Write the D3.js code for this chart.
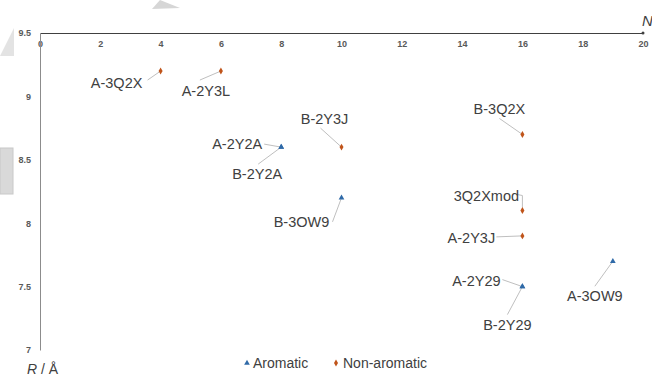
<!DOCTYPE html>
<html>
<head>
<meta charset="utf-8">
<script src="https://cdn.jsdelivr.net/npm/d3@7"></script>
<style>
  body { margin: 0; background: #fff; }
  svg { display: block; font-family: "Liberation Sans", Arial, sans-serif; }
</style>
</head>
<body>
<div id="chart"></div>
<script>
// data
const aromaticNames = ["A-2Y2A", "B-2Y2A", "B-3OW9", "A-2Y29", "B-2Y29", "A-3OW9"]
const aromaticN = [8, 8, 10, 16, 16, 19]
const aromaticR = [8.6, 8.6, 8.2, 7.5, 7.5, 7.7]

const nonAromaticNames = ["A-3Q2X", "A-2Y3L", "B-2Y3J", "B-3Q2X", "3Q2Xmod", "A-2Y3J"]
const nonAromaticN = [4, 6, 10, 16, 16, 16]
const nonAromaticR = [9.2, 9.2, 8.6, 8.7, 8.1, 7.9]

const xTicks = [0, 2, 4, 6, 8, 10, 12, 14, 16, 18, 20]
const yTicks = [7, 7.5, 8, 8.5, 9, 9.5]

// label placement: [text dx, text dy, leader dx, leader dy] relative to the point (px)
const labelPos = {
  "A-3Q2X": [-44, 17, -13, 9],
  "A-2Y3L": [-15, 25, -21, 9],
  "B-2Y3J": [-17, -23, -21, -19],
  "A-2Y2A": [-44, 2, -17, -3],
  "B-2Y2A": [-24, 32, -23, 17],
  "B-3OW9": [-40, 29, -9, 24],
  "B-3Q2X": [-23, -20, -23, -16],
  "3Q2Xmod": [-36, -10, -2, -16],
  "A-2Y3J": [-51, 7, -26, 1],
  "A-2Y29": [-46, -1, -20, -7],
  "B-2Y29": [-15, 43, -15, 28],
  "A-3OW9": [-18, 40, -18, 25]
}

const width = 652
const height = 377

const svg = d3.select("#chart")
  .append("svg")
    .attr("width", width)
    .attr("height", height)

// faint page decorations behind the chart
const deco = svg.append("g").attr("fill", "#e3e3e3")
deco.append("path").attr("d", "M0,56 L14,28 L14,56 Z")
deco.append("path").attr("d", "M152,9 L160,0 L180,8 Z").attr("fill", "#d6d6d6")
deco.append("rect").attr("x", 0).attr("y", 148).attr("width", 13).attr("height", 46)
  .attr("fill", "#d9d9d9").attr("stroke", "#c8c8c8")

const x = d3.scaleLinear().domain([0, 20]).range([40, 643])
const y = d3.scaleLinear().domain([7, 9.5]).range([350, 33])

// x axis along the top
const xAxis = d3.axisBottom(x).tickValues(xTicks).tickSize(0).tickPadding(8)
const xAxisGroup = svg.append("g")
  .attr("transform", `translate(0, ${y(9.5)})`)
  .call(xAxis)
xAxisGroup.select(".domain").attr("stroke", "#404040")
xAxisGroup.selectAll("text")
  .attr("fill", "#595959").attr("font-size", 9).attr("font-weight", "bold")
  .attr("font-family", "Liberation Sans, Arial, sans-serif")

svg.append("circle")
  .attr("cx", x(20)).attr("cy", y(9.5)).attr("r", 1.5).attr("fill", "#404040")

// y axis
const yAxis = d3.axisLeft(y).tickValues(yTicks).tickSize(0).tickPadding(9).tickFormat(d3.format(""))
const yAxisGroup = svg.append("g")
  .attr("transform", `translate(${x(0)}, 0)`)
  .call(yAxis)
yAxisGroup.select(".domain").attr("stroke", "#8c8c8c")
yAxisGroup.selectAll("text")
  .attr("fill", "#595959").attr("font-size", 9).attr("font-weight", "bold")
  .attr("font-family", "Liberation Sans, Arial, sans-serif")

// axis titles
svg.append("text")
  .attr("x", 642).attr("y", 26)
  .attr("font-size", 15).attr("font-style", "italic").attr("fill", "#404040")
  .text("N")

const rTitle = svg.append("text")
  .attr("x", 27).attr("y", 374)
  .attr("font-size", 14).attr("fill", "#404040")
rTitle.append("tspan").attr("font-style", "italic").text("R")
rTitle.append("tspan").text(" / Å")

// points
const aromatic = aromaticNames.map((n, i) => ({ name: n, n: aromaticN[i], r: aromaticR[i] }))
const nonAromatic = nonAromaticNames.map((n, i) => ({ name: n, n: nonAromaticN[i], r: nonAromaticR[i] }))
const all = aromatic.concat(nonAromatic)

// leader lines
svg.append("g").selectAll("polyline")
  .data(all)
  .join("polyline")
    .attr("fill", "none")
    .attr("stroke", "#bfbfbf")
    .attr("stroke-width", 1)
    .attr("points", d => {
      const p = labelPos[d.name]
      const px = x(d.n), py = y(d.r)
      if (d.name === "3Q2Xmod") {
        return `${px + p[2] - 3},${py + p[3]} ${px},${py + p[3] + 1} ${px},${py - 3}`
      }
      return `${px + p[2]},${py + p[3]} ${px},${py}`
    })

const triangle = d3.symbol().type(d3.symbolTriangle).size(14)
const diamond = d3.symbol().type(d3.symbolDiamond).size(14)

svg.append("g").selectAll("path")
  .data(aromatic)
  .join("path")
    .attr("d", triangle)
    .attr("transform", d => `translate(${x(d.n)}, ${y(d.r)})`)
    .attr("fill", "#2f6aa8")

svg.append("g").selectAll("path")
  .data(nonAromatic)
  .join("path")
    .attr("d", diamond)
    .attr("transform", d => `translate(${x(d.n)}, ${y(d.r)})`)
    .attr("fill", "#c0541a")

// point labels
svg.append("g").selectAll("text")
  .data(all)
  .join("text")
    .attr("x", d => x(d.n) + labelPos[d.name][0])
    .attr("y", d => y(d.r) + labelPos[d.name][1])
    .attr("text-anchor", "middle")
    .attr("font-size", 14.5)
    .attr("fill", "#404040")
    .text(d => d.name)

// legend
const legend = svg.append("g").attr("transform", "translate(247, 363)")
legend.append("path").attr("d", triangle).attr("fill", "#2f6aa8")
legend.append("text").attr("x", 6).attr("y", 5).attr("font-size", 14).attr("fill", "#404040").text("Aromatic")
legend.append("path").attr("d", diamond).attr("transform", "translate(89, 0)").attr("fill", "#c0541a")
legend.append("text").attr("x", 96).attr("y", 5).attr("font-size", 14).attr("fill", "#404040").text("Non-aromatic")
</script>
</body>
</html>
